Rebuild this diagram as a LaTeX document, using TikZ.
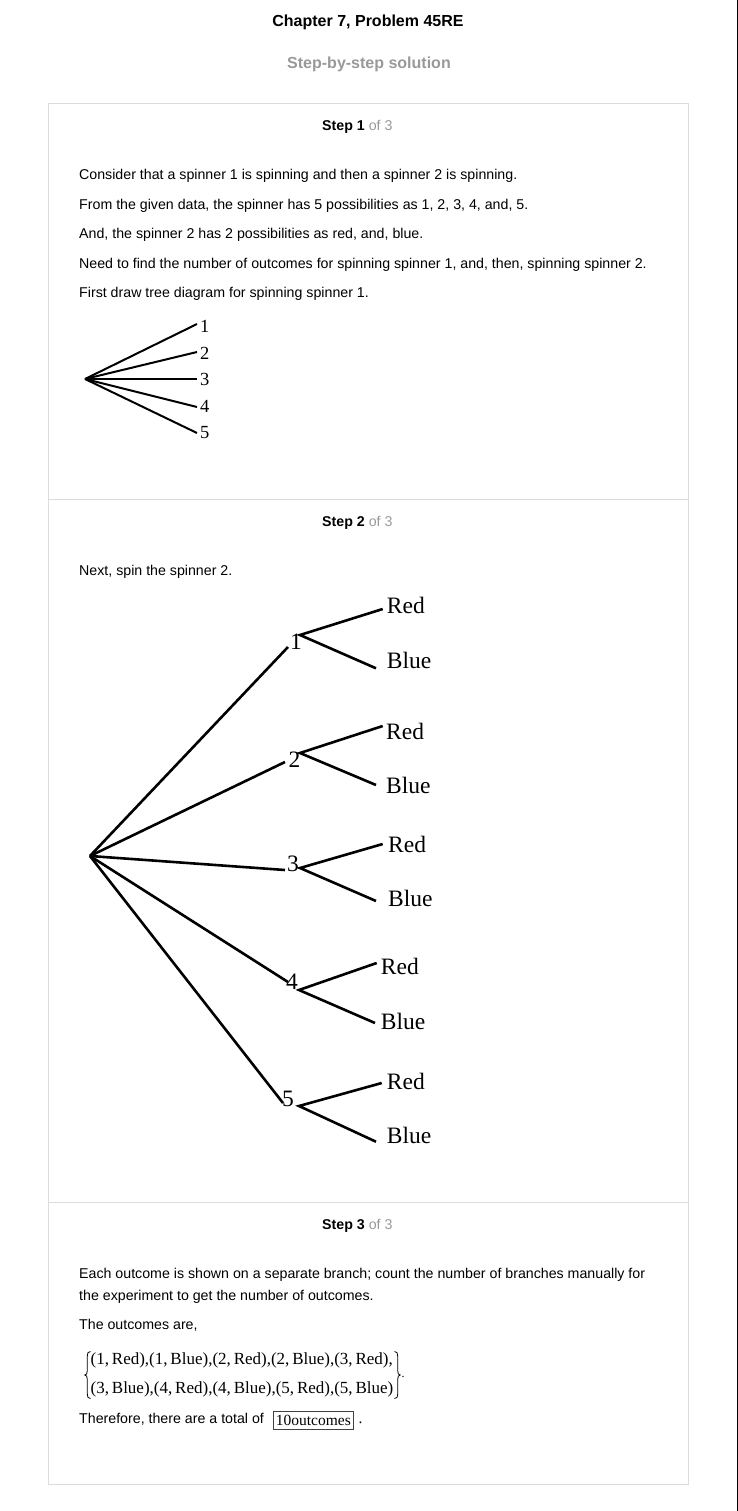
\documentclass[tikz,border=0pt]{standalone}
\usepackage{fontspec}
\setmainfont{Liberation Sans}
\newfontfamily\tms{Liberation Serif}
\definecolor{boxgray}{HTML}{DCDCDC}
\definecolor{txtgray}{HTML}{999999}
\begin{document}
\begin{tikzpicture}[x=1pt,y=-1pt,
  body/.style={anchor=base west, inner sep=0pt, font=\fontsize{14.2}{17}\selectfont},
  hdr/.style={anchor=base west, inner sep=0pt, font=\fontsize{14.2}{17}\selectfont},
  lblA/.style={anchor=west, inner sep=0pt, font=\tms\fontsize{18.5}{20}\selectfont},
  lblB/.style={anchor=west, inner sep=0pt, font=\tms\fontsize{23.5}{26}\selectfont},
  num/.style={inner sep=0pt, font=\tms\fontsize{23.5}{26}\selectfont},
  setrow/.style={anchor=base west, inner sep=0pt, font=\tms\fontsize{17}{20}\selectfont},
  brA/.style={line width=2pt},
  brB/.style={line width=2.6pt},
  curly/.style={line width=0.8pt}]
\useasboundingbox (0,0) rectangle (738,1511);
\fill[white] (0,0) rectangle (738,1511);
% frame
\draw[boxgray, line width=1pt] (48,104) rectangle (688,1484);
\draw[boxgray, line width=1pt] (48,499.5) -- (688,499.5);
\draw[boxgray, line width=1pt] (48,1202.5) -- (688,1202.5);
\draw[black, line width=1.4pt] (737.3,0) -- (737.3,1511);
% titles
\node[anchor=base, inner sep=0pt, font=\bfseries\fontsize{16}{19}\selectfont] (title) at (368,27) {Chapter 7, Problem 45RE};
\node[anchor=base, inner sep=0pt, text=txtgray, font=\bfseries\fontsize{16}{19}\selectfont] (sub) at (369,69) {Step-by-step solution};
% step 1
\node[hdr] (h1) at (322,131) {\textbf{Step 1} \textcolor{txtgray}{of 3}};
\node[body] (t11) at (79,180) {Consider that a spinner 1 is spinning and then a spinner 2 is spinning.};
\node[body] (t12) at (79,210) {From the given data, the spinner has 5 possibilities as 1, 2, 3, 4, and, 5.};
\node[body] (t13) at (79,239) {And, the spinner 2 has 2 possibilities as red, and, blue.};
\node[body] (t14) at (79,269) {Need to find the number of outcomes for spinning spinner 1, and, then, spinning spinner 2.};
\node[body] (t15) at (79,298) {First draw tree diagram for spinning spinner 1.};
% tree 1
\coordinate (r1) at (85,379);
\coordinate (e1) at (197,324);
\coordinate (e2) at (197,352);
\coordinate (e3) at (197,379);
\coordinate (e4) at (197,407);
\coordinate (e5) at (197,433);
\node[lblA] (a1) at (200,326.5) {1};
\node[lblA] (a2) at (200,353) {2};
\node[lblA] (a3) at (200,379) {3};
\node[lblA] (a4) at (200,406.5) {4};
\node[lblA] (a5) at (200,432.5) {5};
\foreach \i in {1,...,5} \draw[brA] (r1) -- (e\i);
% step 2
\node[hdr] (h2) at (322,526) {\textbf{Step 2} \textcolor{txtgray}{of 3}};
\node[body] (t21) at (79,575) {Next, spin the spinner 2.};
\coordinate (r2) at (90,856);
\coordinate (m1) at (288,647);
\coordinate (m2) at (285,762);
\coordinate (m3) at (285,870);
\coordinate (m4) at (288,982);
\coordinate (m5) at (283,1103);
\foreach \i in {1,...,5} \draw[brB] (r2) -- (m\i);
\node[num] (n1) at (296,642) {1};
\node[num] (n2) at (294.5,760) {2};
\node[num] (n3) at (293,863.5) {3};
\node[num] (n4) at (292,982) {4};
\node[num] (n5) at (288,1098.5) {5};
% branch starts and ends
\coordinate (s1) at (300,635);   \coordinate (x1r) at (382.7,609);  \coordinate (x1b) at (376,668.3);
\coordinate (s2) at (300,753);   \coordinate (x2r) at (382.7,726);  \coordinate (x2b) at (376,785);
\coordinate (s3) at (300,868);   \coordinate (x3r) at (382.7,844);  \coordinate (x3b) at (376,901);
\coordinate (s4) at (299,990);   \coordinate (x4r) at (376.7,963);  \coordinate (x4b) at (375,1023);
\coordinate (s5) at (299,1106);  \coordinate (x5r) at (381.7,1083); \coordinate (x5b) at (376,1141.7);
\foreach \i in {1,...,5} {\draw[brB] (x\i r) -- (s\i) -- (x\i b);}
\node[lblB] (c1r) at (386.7,605.7) {Red};
\node[lblB] (c1b) at (386.7,660.7) {Blue};
\node[lblB] (c2r) at (386,731) {Red};
\node[lblB] (c2b) at (386,785) {Blue};
\node[lblB] (c3r) at (388,844) {Red};
\node[lblB] (c3b) at (388,898) {Blue};
\node[lblB] (c4r) at (380.7,966.7) {Red};
\node[lblB] (c4b) at (380.7,1021) {Blue};
\node[lblB] (c5r) at (386.7,1081) {Red};
\node[lblB] (c5b) at (386.7,1135) {Blue};
% step 3
\node[hdr] (h3) at (322,1229) {\textbf{Step 3} \textcolor{txtgray}{of 3}};
\node[body] (t31) at (79,1278.5) {Each outcome is shown on a separate branch; count the number of branches manually for};
\node[body] (t32) at (79,1300.5) {the experiment to get the number of outcomes.};
\node[body] (t33) at (79,1329) {The outcomes are,};
\node[setrow] (row1) at (90.5,1364) {(1,\,Red),(1,\,Blue),(2,\,Red),(2,\,Blue),(3,\,Red),};
\node[setrow] (row2) at (90.5,1393.5) {(3,\,Blue),(4,\,Red),(4,\,Blue),(5,\,Red),(5,\,Blue)};
% braces
\draw[curly] (90.5,1351.5) .. controls (88,1351.5) and (87.3,1353) .. (87.3,1356)
  -- (87.3,1370.5) .. controls (87.3,1373.5) and (86.5,1375) .. (84.8,1375)
  .. controls (86.5,1375) and (87.3,1376.5) .. (87.3,1379.5)
  -- (87.3,1394) .. controls (87.3,1397) and (88,1398.5) .. (90.5,1398.5);
\draw[curly] (394.5,1351.5) .. controls (397,1351.5) and (397.7,1353) .. (397.7,1356)
  -- (397.7,1370.5) .. controls (397.7,1373.5) and (398.5,1375) .. (400.2,1375)
  .. controls (398.5,1375) and (397.7,1376.5) .. (397.7,1379.5)
  -- (397.7,1394) .. controls (397.7,1397) and (397,1398.5) .. (394.5,1398.5);
\node[inner sep=0pt, font=\tms\fontsize{12}{12}\selectfont] (dot1) at (403,1377) {.};
\node[body] (t34) at (79,1423) {Therefore, there are a total of};
\node[anchor=west, draw=black!75, line width=0.8pt, inner xsep=3pt, inner ysep=0pt, minimum height=18pt, font=\tms\fontsize{15.5}{17}\selectfont] (ans) at (272.5,1420) {10outcomes};
\node[anchor=base west, inner sep=0pt, font=\tms\fontsize{15.5}{17}\selectfont] (dot2) at (358.5,1423) {.};
\end{tikzpicture}
\end{document}
